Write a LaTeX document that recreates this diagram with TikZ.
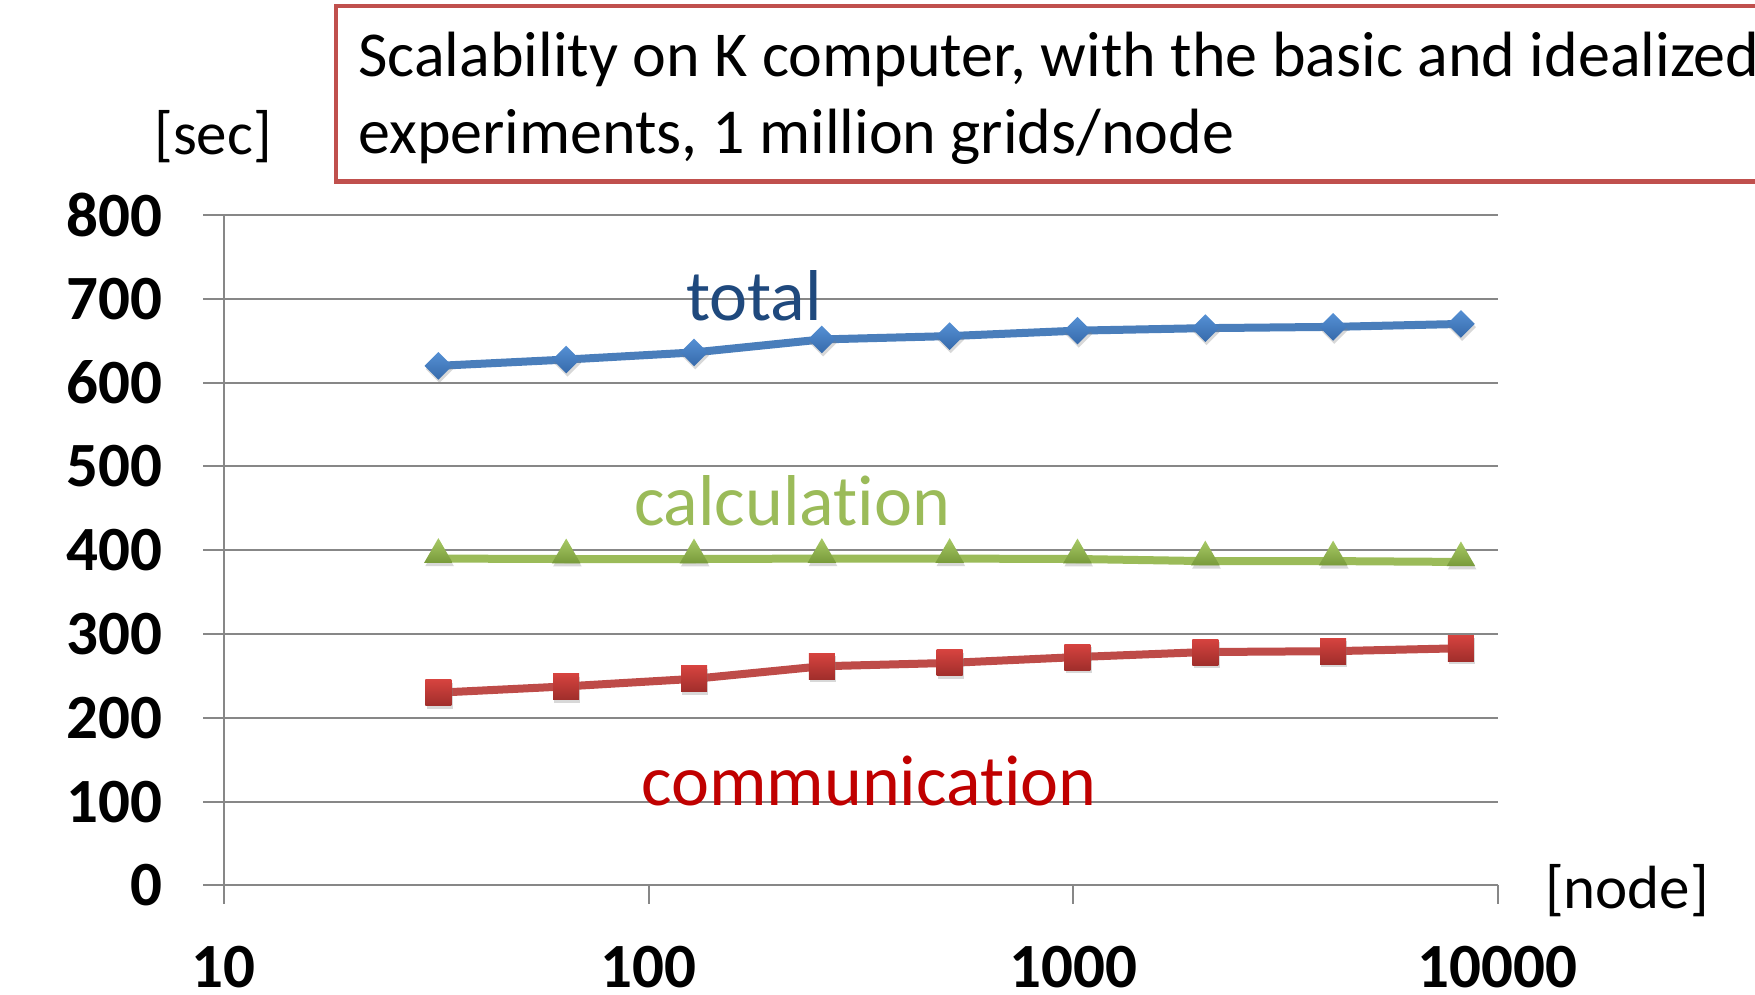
\documentclass[tikz,border=0pt]{standalone}
\usepackage{fontspec}
\setmainfont{Carlito}[Ligatures={NoCommon,NoContextual}]
\usetikzlibrary{shapes.geometric,shadows}
\definecolor{gridgray}{HTML}{878787}
\definecolor{boxred}{HTML}{C0504D}
\definecolor{totline}{HTML}{4A7EBB}
\definecolor{tottop}{HTML}{5590D4}
\definecolor{totbot}{HTML}{366AAB}
\definecolor{totlab}{HTML}{1F497D}
\definecolor{calline}{HTML}{9BBB59}
\definecolor{caltop}{HTML}{A8CA66}
\definecolor{calbot}{HTML}{789A3A}
\definecolor{comline}{HTML}{BE4B48}
\definecolor{comtop}{HTML}{D6433F}
\definecolor{combot}{HTML}{A02E2B}
\definecolor{comlab}{HTML}{C00000}
\tikzset{
  grid line/.style={draw=gridgray, line width=1pt},
  ytick lab/.style={anchor=east, inner sep=0pt, font=\fontsize{31.5pt}{36pt}\selectfont\bfseries},
  xtick lab/.style={anchor=center, inner sep=0pt, font=\fontsize{31.5pt}{36pt}\selectfont\bfseries},
  unit lab/.style={anchor=base, inner sep=0pt, font=\fontsize{30.5pt}{36pt}\selectfont},
  title lab/.style={anchor=base west, inner sep=0pt, font=\fontsize{32pt}{38pt}\selectfont},
  series lab/.style={anchor=base, inner sep=0pt, font=\fontsize{36pt}{42pt}\selectfont},
  mshadow/.style={drop shadow={opacity=0.3, shadow xshift=0.6pt, shadow yshift=-1.6pt}},
  dmark/.style={diamond, minimum width=14pt, minimum height=14pt, inner sep=0pt, top color=tottop, bottom color=totbot, mshadow},
  tmark/.style={regular polygon, regular polygon sides=3, minimum size=16.5pt, inner sep=0pt, yshift=2pt, top color=caltop, bottom color=calbot, mshadow},
  smark/.style={rectangle, minimum size=13pt, inner sep=0pt, top color=comtop, bottom color=combot, mshadow},
  sline/.style={line width=4pt, line join=round}
}
\begin{document}
\begin{tikzpicture}[x=0.5pt,y=-0.5pt]
\useasboundingbox (0,0) rectangle (1755,995);
\clip (0,0) rectangle (1755,995);
\fill[white] (0,0) rectangle (1755,995);

% title box
\draw[boxred, line width=2.25pt] (336,6) rectangle (1800,181.5);
\node[title lab] (title1) at (358,77) {Scalability on K computer, with the basic and idealized};
\node[title lab] (title2) at (358,154) {experiments, 1 million grids/node};

% axis units
\node[unit lab] (sec) at (213,155) {[sec]};
\node[unit lab] (nodeunit) at (1627,908) {[node]};

% grid lines and y labels
\foreach \v in {100,200,...,800} {
  \draw[grid line] (203,{885.4-0.838*\v}) -- (1497.6,{885.4-0.838*\v});
}
\foreach \v in {0,100,...,800} {
  \node[ytick lab] (y\v) at (162.5,{885.4-0.838*\v}) {\v};
}
% axes
\draw[grid line] (203,885.4) -- (1497.6,885.4);
\draw[grid line] (223.9,215) -- (223.9,904.4);
\foreach \e/\lab in {0/10,1/100,2/1000,3/10000} {
  \draw[grid line] ({223.9+\e*424.6},885.4) -- ({223.9+\e*424.6},904.4);
  \node[xtick lab] (x\lab) at ({223.9+\e*424.6},966.7) {\lab};
}

% data coordinates
\foreach \n/\v [count=\i] in {32/620,64/627.5,128/636,256/651.5,512/655.5,1024/662,2048/665,4096/666.5,8192/670} {
  \coordinate (t\i) at ({223.9+(log10(\n)-1)*424.6},{885.4-0.838*\v});
}
\foreach \n/\v [count=\i] in {32/390,64/389.5,128/389.5,256/390,512/390,1024/389.5,2048/387,4096/387,8192/386} {
  \coordinate (c\i) at ({223.9+(log10(\n)-1)*424.6},{885.4-0.838*\v});
}
\foreach \n/\v [count=\i] in {32/230,64/237.5,128/246.5,256/261.5,512/265.5,1024/272.5,2048/278.5,4096/279.5,8192/283} {
  \coordinate (m\i) at ({223.9+(log10(\n)-1)*424.6},{885.4-0.838*\v});
}

% series lines
\draw[sline, totline] (t1) \foreach \i in {2,...,9} { -- (t\i) };
\draw[sline, calline] (c1) \foreach \i in {2,...,9} { -- (c\i) };
\draw[sline, comline] (m1) \foreach \i in {2,...,9} { -- (m\i) };

% markers
\foreach \i in {1,...,9} {
  \node[dmark] (tm\i) at (t\i) {};
  \node[tmark] (cm\i) at (c\i) {};
  \node[smark] (mm\i) at (m\i) {};
}

% series labels
\node[series lab, text=totlab] (totallab) at (754,320) {total};
\node[series lab, text=calline] (calclab) at (792,525) {calculat\kern0pt ion};
\node[series lab, text=comlab] (commlab) at (869,805) {communicat\kern0pt ion};
\end{tikzpicture}
\end{document}
